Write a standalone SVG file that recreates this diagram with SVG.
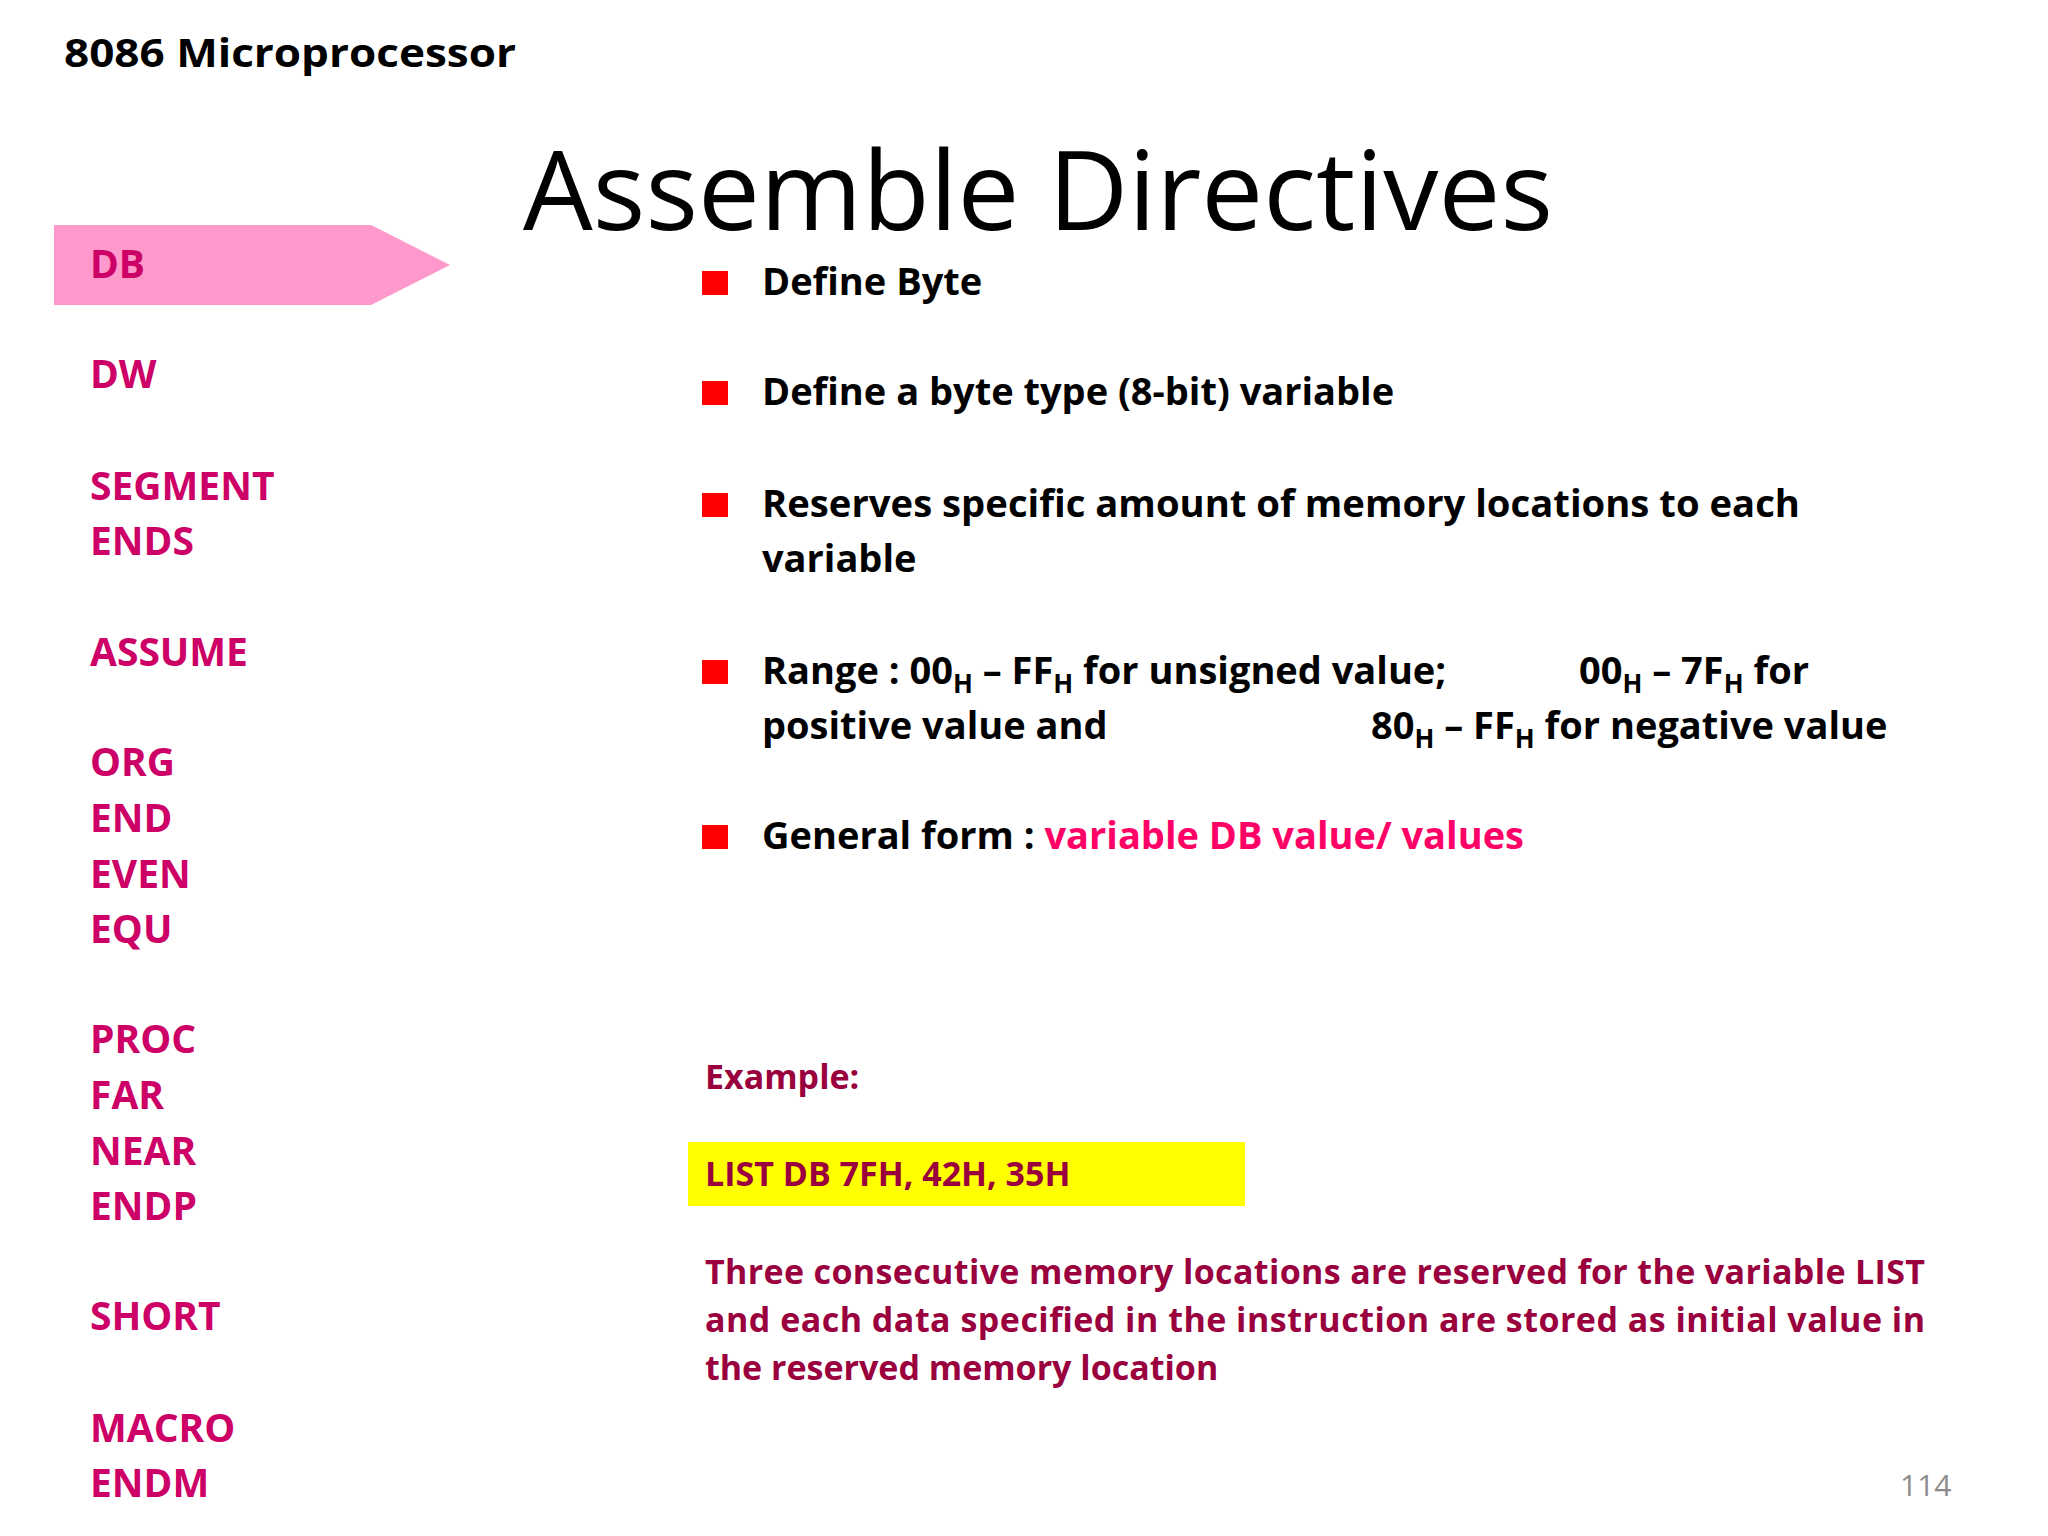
<svg xmlns="http://www.w3.org/2000/svg" width="2048" height="1536" viewBox="0 0 2048 1536">
<style>
text{font-family:"Open Sans","Liberation Sans",sans-serif}
.nav{font-size:39px;font-weight:bold;fill:#CC0066}
.b{font-size:38px;font-weight:bold;fill:#000}
.sub{font-size:26px}
.ex{font-size:34px;font-weight:bold;fill:#99003D}
.sq{fill:#FF0000}
</style>
<rect width="2048" height="1536" fill="#fff"/>
<text x="64" y="67" style="font-size:40px;font-weight:bold" textLength="452" lengthAdjust="spacingAndGlyphs">8086 Microprocessor</text>
<text x="523" y="230" style="font-size:110px" textLength="1030" lengthAdjust="spacingAndGlyphs">Assemble Directives</text>
<g id="nav">
<polygon points="54,225 371,225 450,265 371,305 54,305" fill="#FF99CC"/>
<text class="nav" x="90" y="278">DB</text>
<text class="nav" x="90" y="388">DW</text>
<text class="nav" x="90" y="500">SEGMENT</text>
<text class="nav" x="90" y="555">ENDS</text>
<text class="nav" x="90" y="666">ASSUME</text>
<text class="nav" x="90" y="776">ORG</text>
<text class="nav" x="90" y="832">END</text>
<text class="nav" x="90" y="888">EVEN</text>
<text class="nav" x="90" y="943">EQU</text>
<text class="nav" x="90" y="1053">PROC</text>
<text class="nav" x="90" y="1109">FAR</text>
<text class="nav" x="90" y="1165">NEAR</text>
<text class="nav" x="90" y="1220">ENDP</text>
<text class="nav" x="90" y="1330">SHORT</text>
<text class="nav" x="90" y="1442">MACRO</text>
<text class="nav" x="90" y="1497">ENDM</text>
</g>
<g id="bullets">
<rect class="sq" x="702" y="271" width="26" height="24"/>
<text class="b" x="762" y="295">Define Byte</text>
<rect class="sq" x="702" y="381" width="26" height="24"/>
<text class="b" x="762" y="405">Define a byte type (8-bit) variable</text>
<rect class="sq" x="702" y="493" width="26" height="24"/>
<text class="b" x="762" y="517" textLength="1038" lengthAdjust="spacingAndGlyphs">Reserves specific amount of memory locations to each</text>
<text class="b" x="762" y="572">variable</text>
<rect class="sq" x="702" y="660" width="26" height="24"/>
<text class="b" x="762" y="684">Range : 00<tspan class="sub" dy="9">H</tspan><tspan dy="-9"> – FF</tspan><tspan class="sub" dy="9">H</tspan><tspan dy="-9"> for unsigned value;</tspan></text>
<text class="b" x="1579" y="684">00<tspan class="sub" dy="9">H</tspan><tspan dy="-9"> – 7F</tspan><tspan class="sub" dy="9">H</tspan><tspan dy="-9"> for</tspan></text>
<text class="b" x="762" y="739">positive value and</text>
<text class="b" x="1371" y="739">80<tspan class="sub" dy="9">H</tspan><tspan dy="-9"> – FF</tspan><tspan class="sub" dy="9">H</tspan><tspan dy="-9"> for negative value</tspan></text>
<rect class="sq" x="702" y="825" width="26" height="24"/>
<text class="b" x="762" y="849">General form : <tspan fill="#FF0066">variable DB value/ values</tspan></text>
</g>
<g id="example">
<text class="ex" x="705" y="1089">Example:</text>
<rect x="688" y="1142" width="557" height="64" fill="#FFFF00"/>
<text class="ex" x="705" y="1186">LIST DB 7FH, 42H, 35H</text>
<text class="ex" x="705" y="1284" textLength="1220" lengthAdjust="spacing">Three consecutive memory locations are reserved for the variable LIST</text>
<text class="ex" x="705" y="1332" textLength="1220" lengthAdjust="spacing">and each data specified in the instruction are stored as initial value in</text>
<text class="ex" x="705" y="1380">the reserved memory location</text>
</g>
<text x="1900" y="1496" style="font-size:30px;fill:#8C8C8C">114</text>
</svg>
